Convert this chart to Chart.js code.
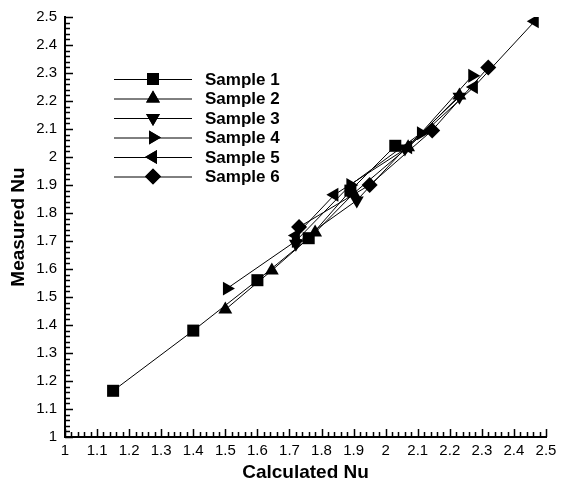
<!DOCTYPE html>
<html>
<head>
<meta charset="utf-8">
<script src="https://cdn.jsdelivr.net/npm/chart.js@4/dist/chart.umd.min.js"></script>
<style>
  html, body { margin: 0; padding: 0; background: #fff; }
  #wrap { width: 562px; height: 486px; }
</style>
</head>
<body>
<div id="wrap"><canvas id="myChart1"></canvas></div>
<script>
// values (calculated Nu vs measured Nu)
var sampleNames = ['Sample 1', 'Sample 2', 'Sample 3', 'Sample 4', 'Sample 5', 'Sample 6'];

var calcS1 = [1.15, 1.40, 1.60, 1.76, 1.89, 2.03];
var measS1 = [1.165, 1.38, 1.56, 1.71, 1.88, 2.04];
var calcS2 = [1.50, 1.645, 1.78, 1.90, 2.07, 2.23];
var measS2 = [1.455, 1.595, 1.73, 1.87, 2.035, 2.22];
var calcS3 = [1.72, 1.91, 2.06, 2.23];
var measS3 = [1.69, 1.845, 2.03, 2.215];
var calcS4 = [1.505, 1.72, 1.89, 2.11, 2.27];
var measS4 = [1.53, 1.70, 1.90, 2.085, 2.29];
var calcS5 = [1.72, 1.84, 2.07, 2.275, 2.465];
var measS5 = [1.72, 1.865, 2.035, 2.25, 2.485];
var calcS6 = [1.73, 1.95, 2.145, 2.32];
var measS6 = [1.75, 1.90, 2.095, 2.32];

var axisMin = 1, axisMax = 2.5, axisStep = 0.1;

function pts(xs, ys) {
    return xs.map(function (x, i) { return { x: x, y: ys[i] }; });
}

// marker look for each sample
var markers = [
    { style: 'rect', rotation: 0, radius: 8.5 },
    { style: 'triangle', rotation: 0, radius: 8 },
    { style: 'triangle', rotation: 180, radius: 8 },
    { style: 'triangle', rotation: 90, radius: 8 },
    { style: 'triangle', rotation: 270, radius: 8 },
    { style: 'rectRot', rotation: 0, radius: 8 }
];

var allData = [
    pts(calcS1, measS1), pts(calcS2, measS2), pts(calcS3, measS3),
    pts(calcS4, measS4), pts(calcS5, measS5), pts(calcS6, measS6)
];

var datasets = allData.map(function (d, i) {
    return {
        label: sampleNames[i],
        data: d,
        showLine: true,
        borderColor: '#000',
        borderWidth: 1,
        backgroundColor: '#000',
        pointStyle: markers[i].style,
        rotation: markers[i].rotation,
        pointRadius: markers[i].radius,
        pointBorderWidth: 0,
        pointBackgroundColor: '#000'
    };
});

// inward major/minor ticks on both axes
var inwardTicks = {
    id: 'inwardTicks',
    afterDraw: function (chart) {
        var ctx = chart.ctx, xs = chart.scales.x, ys = chart.scales.y;
        var a = chart.chartArea;
        ctx.save();
        ctx.strokeStyle = '#000';
        ctx.lineWidth = 1.5;
        ctx.beginPath();
        for (var i = 0; i <= 75; i++) {
            var v = axisMin + i * 0.02;
            var len = (i % 5 === 0) ? 8 : 5;
            var px = Math.round(xs.getPixelForValue(v)) + 0.5;
            ctx.moveTo(px, a.bottom);
            ctx.lineTo(px, a.bottom - len);
            var py = Math.round(ys.getPixelForValue(v)) + 0.5;
            ctx.moveTo(a.left, py);
            ctx.lineTo(a.left + len, py);
        }
        ctx.stroke();
        ctx.restore();
    }
};

// legend drawn inside the plot: line, marker, bold label
var innerLegend = {
    id: 'innerLegend',
    afterDraw: function (chart) {
        var ctx = chart.ctx;
        ctx.save();
        ctx.font = 'bold 17px "Liberation Sans", Arial, sans-serif';
        ctx.textBaseline = 'middle';
        ctx.fillStyle = '#000';
        sampleNames.forEach(function (name, i) {
            var y = 79 + i * 19.5;
            ctx.strokeStyle = '#000';
            ctx.lineWidth = 1;
            ctx.beginPath();
            ctx.moveTo(114, y + 0.5);
            ctx.lineTo(192, y + 0.5);
            ctx.stroke();
            Chart.helpers.drawPoint(ctx, {
                pointStyle: markers[i].style,
                rotation: markers[i].rotation,
                radius: markers[i].radius,
                borderWidth: 0
            }, 153, y);
            ctx.fillStyle = '#000';
            ctx.fill();
            ctx.fillText(name, 205, y + 1);
        });
        ctx.restore();
    }
};

var ctx = document.getElementById('myChart1').getContext('2d');

var myChart = new Chart(ctx, {
    type: 'scatter',
    data: { datasets: datasets },
    options: {
        responsive: true,
        maintainAspectRatio: false,
        animation: false,
        layout: { padding: { top: 16, right: 16, left: 0, bottom: 0 } },
        plugins: {
            legend: { display: false },
            tooltip: { enabled: false }
        },
        scales: {
            x: {
                type: 'linear',
                min: axisMin,
                max: axisMax,
                afterFit: function (s) { s.height = 49; },
                border: { display: true, color: '#000', width: 2 },
                grid: { display: false, drawTicks: false },
                ticks: {
                    stepSize: axisStep,
                    autoSkip: false,
                    maxRotation: 0,
                    padding: 5,
                    color: '#000',
                    font: { family: '"Liberation Sans", Arial, sans-serif', size: 15 },
                    callback: function (v) { return String(Number(v.toFixed(1))); }
                },
                title: {
                    display: true,
                    text: 'Calculated Nu',
                    color: '#000',
                    padding: { top: 0, bottom: 2 },
                    font: { family: '"Liberation Sans", Arial, sans-serif', size: 19, weight: 'bold' }
                }
            },
            y: {
                type: 'linear',
                min: axisMin,
                max: axisMax,
                afterFit: function (s) { s.width = 65; },
                border: { display: true, color: '#000', width: 2 },
                grid: { display: false, drawTicks: false },
                ticks: {
                    stepSize: axisStep,
                    autoSkip: false,
                    padding: 8,
                    color: '#000',
                    font: { family: '"Liberation Sans", Arial, sans-serif', size: 15 },
                    callback: function (v) { return String(Number(v.toFixed(1))); }
                },
                title: {
                    display: true,
                    text: 'Measured Nu',
                    color: '#000',
                    padding: { top: 7, bottom: 0 },
                    font: { family: '"Liberation Sans", Arial, sans-serif', size: 19, weight: 'bold' }
                }
            }
        }
    },
    plugins: [inwardTicks, innerLegend]
});
</script>
</body>
</html>
